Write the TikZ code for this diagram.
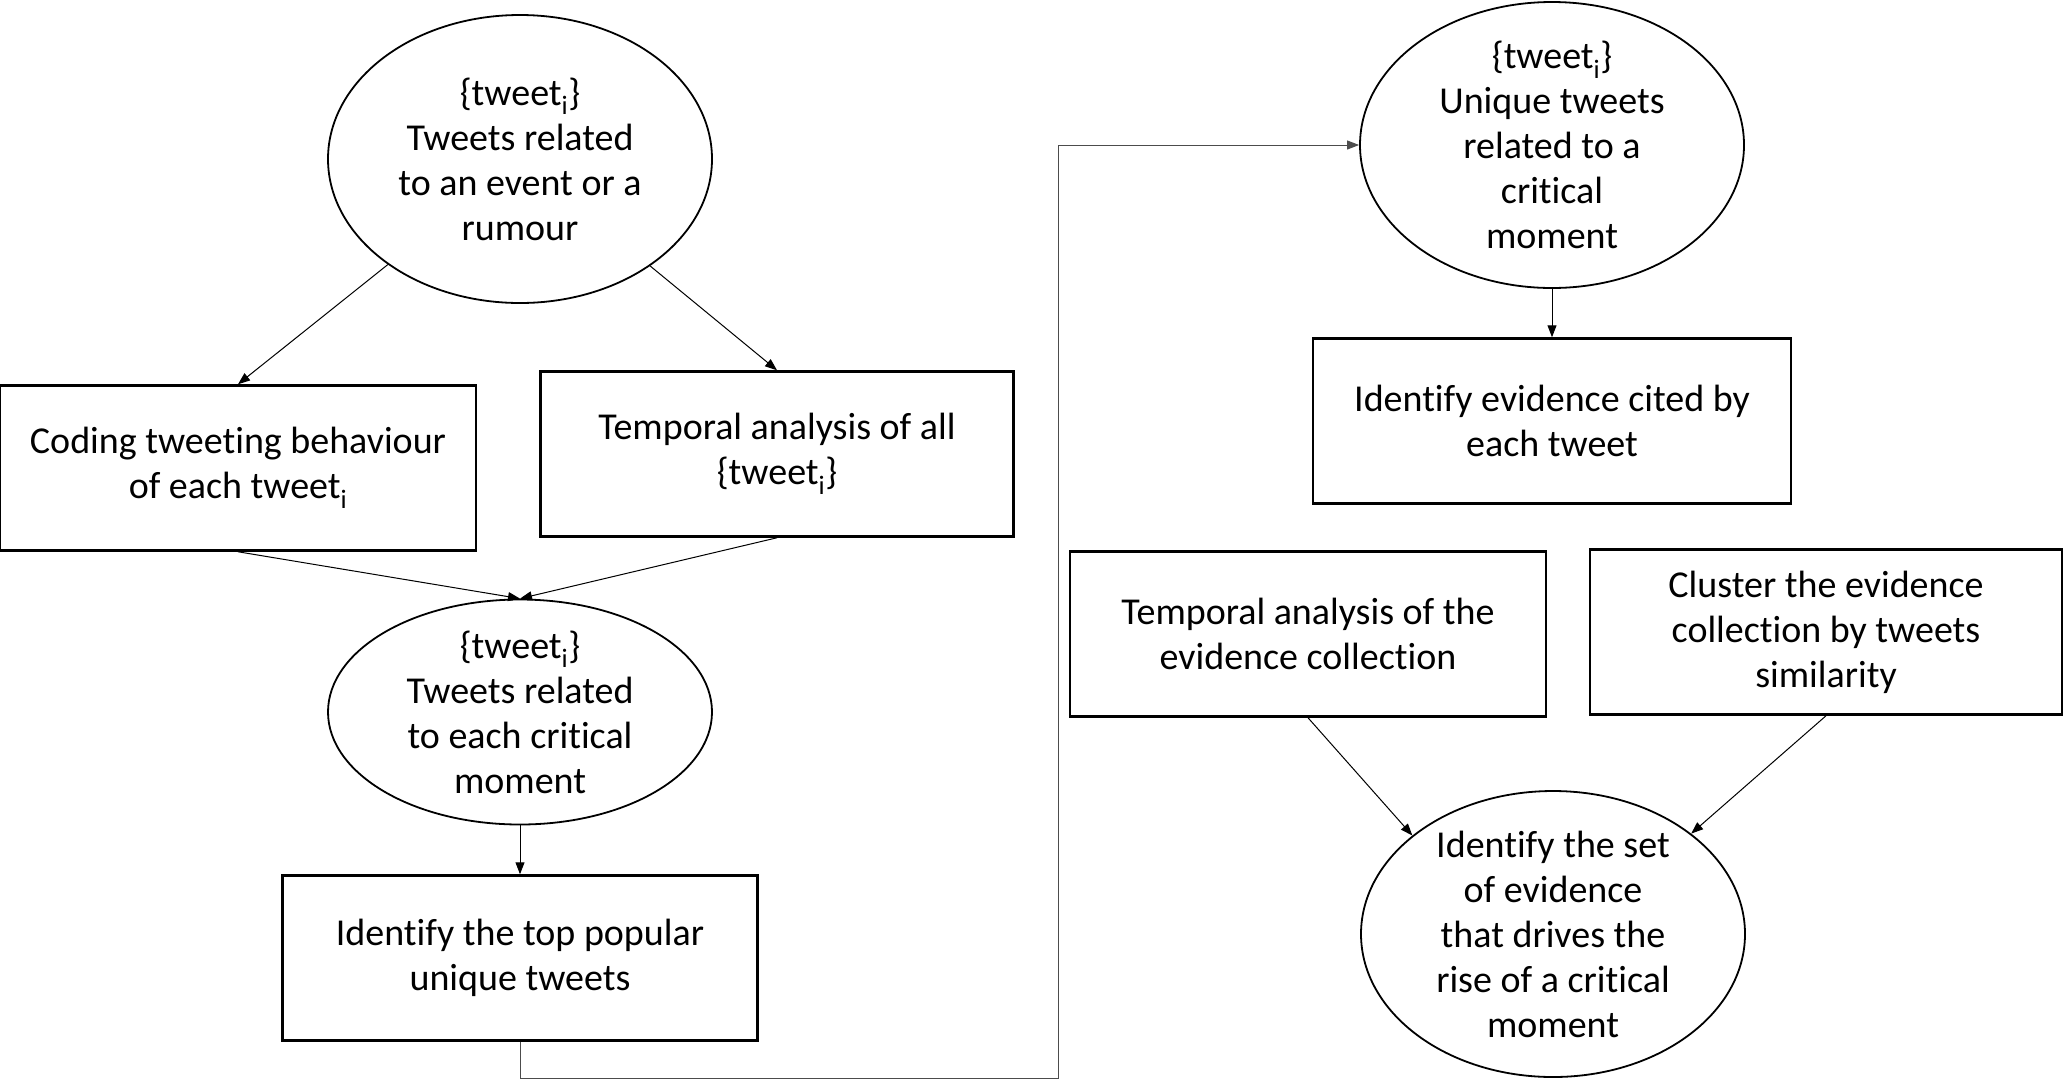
\documentclass[tikz,border=0pt]{standalone}
\usepackage{fontspec}
\setmainfont{Carlito}[Ligatures={NoCommon,NoRare,NoContextual}]
\usepackage{tikz}
\usetikzlibrary{arrows.meta,positioning,shapes.geometric,calc}

\begin{document}
\begin{tikzpicture}[
    x=1pt, y=-1pt,
    font=\fontsize{38}{45}\selectfont,
    taskbox/.style={draw, line width=2.5pt, rectangle, align=center, inner sep=0pt, minimum width=#1, minimum height=165pt},
    tweetset/.style={draw, line width=1.8pt, ellipse, align=center, inner xsep=0pt, inner ysep=-25pt, minimum width=384pt, minimum height=#1},
    arrow/.style={-{Triangle[length=12pt, width=9pt]}, line width=1pt, #1}
]
\useasboundingbox (0,0) rectangle (2063,1080);

% Left column
\node[tweetset=288pt] (event) at (520, 159) {\{tweet\textsubscript{i}\}\\Tweets related\\to an event or a\\rumour};
\node[taskbox=476pt] (coding) at (238, 468) {Coding tweeting behaviour\\of each tweet\textsubscript{i}};
\node[taskbox=473pt] (temporal) at (777, 454) {Temporal analysis of all\\\{tweet\textsubscript{i}\}};
\node[tweetset=225pt] (moment) at (520, 712) {\{tweet\textsubscript{i}\}\\Tweets related\\to each critical\\moment};
\node[taskbox=475pt] (popular) at (520, 958) {Identify the top popular\\unique tweets};

% Right column
\node[tweetset=286pt] (unique) at (1552, 145) {\{tweet\textsubscript{i}\}\\Unique tweets\\related to a\\critical\\moment};
\node[taskbox=478pt] (cited) at (1552, 421) {Identify evidence cited by\\each tweet};
\node[taskbox=476pt] (evtime) at (1308, 634) {Temporal analysis of the\\evidence collection};
\node[taskbox=472pt] (cluster) at (1826, 632) {Cluster the evidence\\collection by tweets\\similarity};
\node[tweetset=286pt] (drives) at (1553, 934) {Identify the set\\of evidence\\that drives the\\rise of a critical\\moment};

% Arrows
\draw[arrow] (event) -- (coding.north);
\draw[arrow] (event) -- (temporal.north);
\draw[arrow] (coding.south) -- (moment.north);
\draw[arrow] (temporal.south) -- (moment.north);
\draw[arrow] (moment) -- (popular);

\coordinate (turn) at (1058, 1078);
\draw[arrow=black!70] (popular.south) |- (turn) |- (unique.west);

\draw[arrow] (unique) -- (cited);
\draw[arrow] (evtime.south) -- (drives.145);
\draw[arrow] (cluster.south) -- (drives.36);

\end{tikzpicture}
\end{document}
